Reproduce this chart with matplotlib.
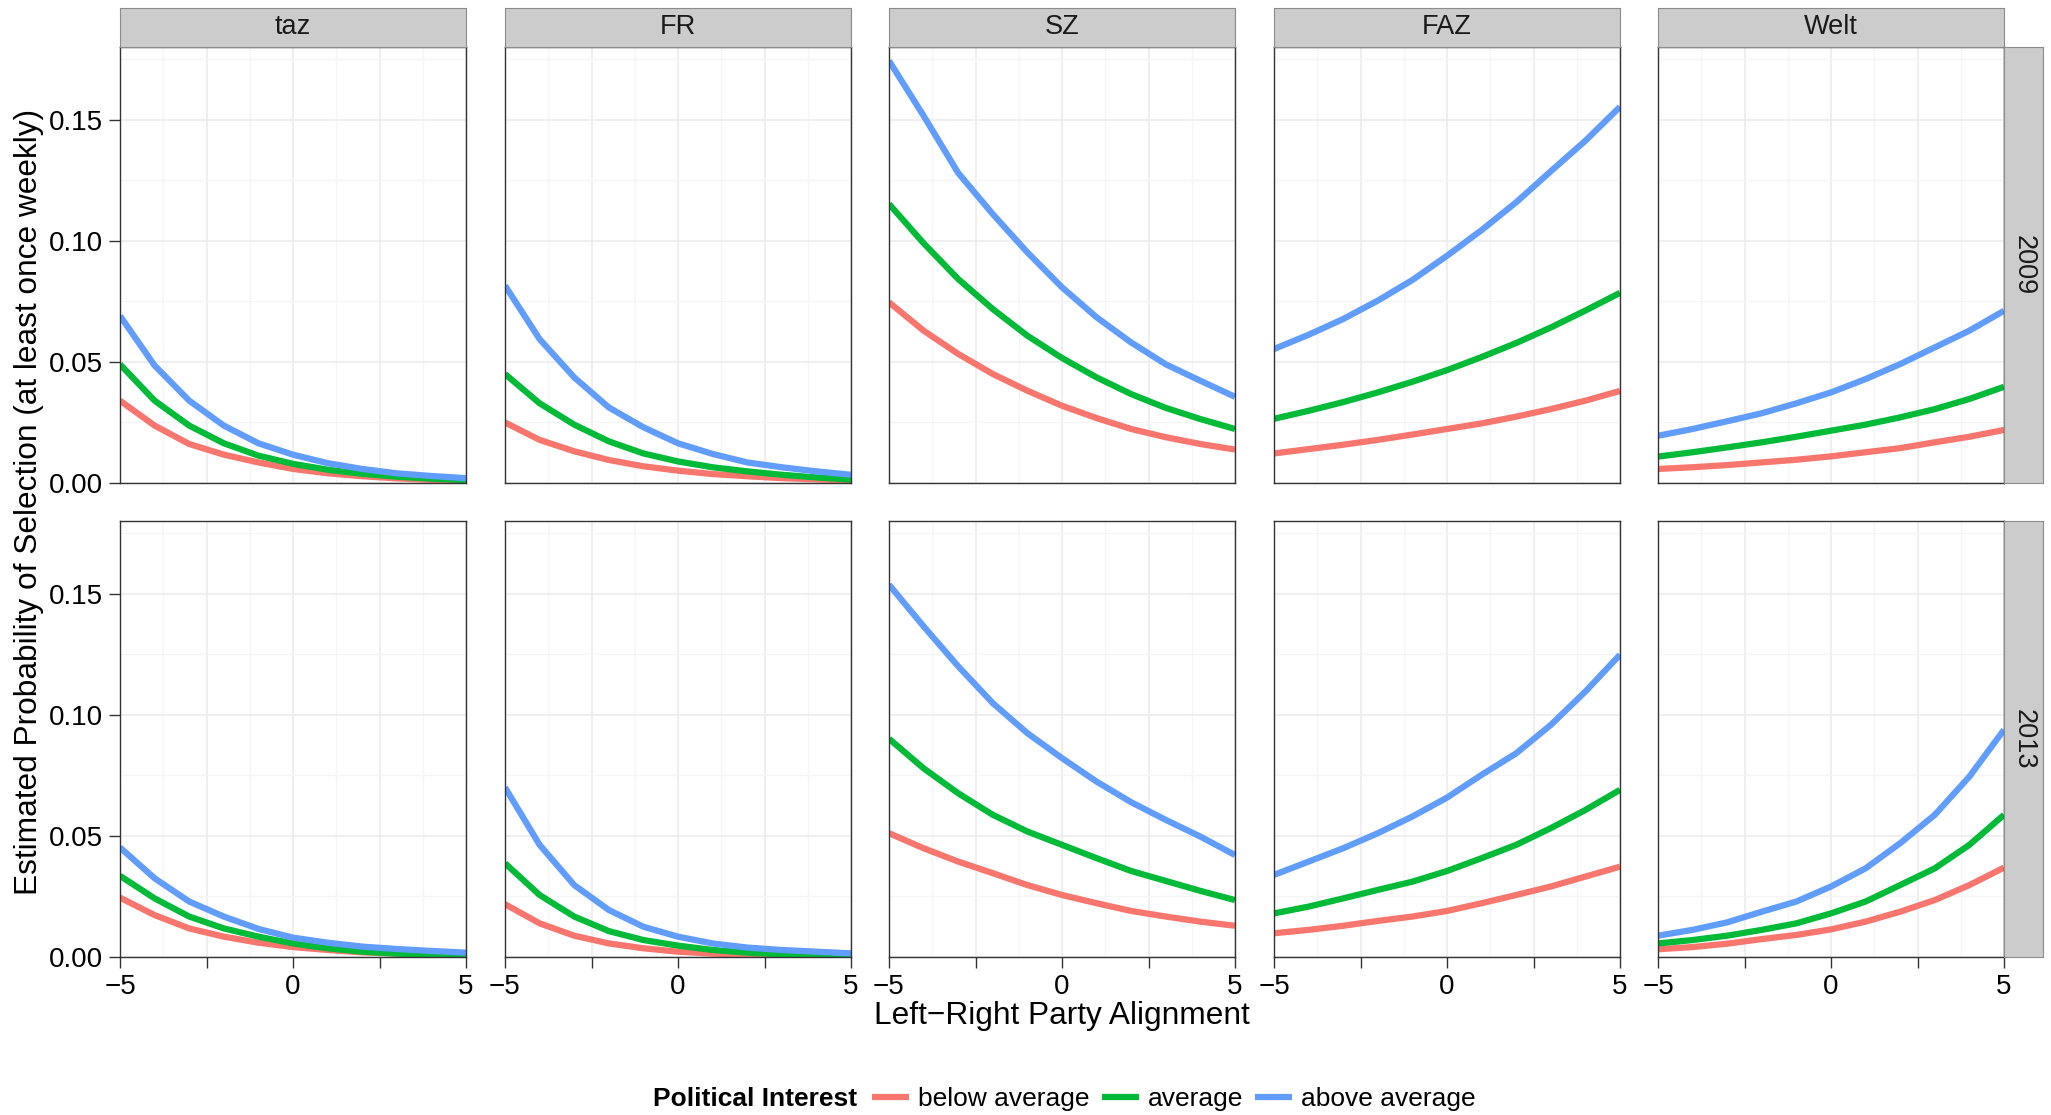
import matplotlib
matplotlib.use("Agg")
import matplotlib.pyplot as plt
from matplotlib.lines import Line2D
from matplotlib.ticker import FixedLocator, FixedFormatter

plt.rcParams['font.family'] = ['Liberation Sans', 'DejaVu Sans']

# ---------------- data ----------------
alignment = [-5, -4, -3, -2, -1, 0, 1, 2, 3, 4, 5]
papers = ["taz", "FR", "SZ", "FAZ", "Welt"]
years = ["2009", "2013"]
groups = ["below average", "average", "above average"]
group_colors = ["#F8766D", "#00BA38", "#619CFF"]

# 2009
taz09_below = [0.034, 0.0237, 0.0161, 0.0117, 0.0085, 0.0058, 0.004, 0.0028, 0.0019, 0.0013, 0.0009]
taz09_avg = [0.049, 0.034, 0.0237, 0.0164, 0.0113, 0.0079, 0.0055, 0.0038, 0.0026, 0.0018, 0.0012]
taz09_above = [0.069, 0.0485, 0.034, 0.0237, 0.0164, 0.0117, 0.0082, 0.0058, 0.004, 0.0029, 0.002]

fr09_below = [0.025, 0.0178, 0.0131, 0.0095, 0.0069, 0.0051, 0.0037, 0.0028, 0.002, 0.0015, 0.001]
fr09_avg = [0.045, 0.0329, 0.0241, 0.0172, 0.0122, 0.0089, 0.0065, 0.0048, 0.0034, 0.0023, 0.0014]
fr09_above = [0.0815, 0.0594, 0.0436, 0.0312, 0.023, 0.0164, 0.012, 0.0085, 0.0065, 0.0048, 0.0034]

sz09_below = [0.0746, 0.0629, 0.0533, 0.045, 0.0381, 0.0319, 0.0268, 0.0223, 0.0189, 0.0161, 0.0138]
sz09_avg = [0.1152, 0.099, 0.0842, 0.0718, 0.0608, 0.0516, 0.0436, 0.0367, 0.031, 0.0264, 0.0223]
sz09_above = [0.1743, 0.1516, 0.128, 0.111, 0.0952, 0.0808, 0.0684, 0.058, 0.049, 0.0422, 0.0356]

faz09_below = [0.0122, 0.014, 0.0158, 0.0178, 0.02, 0.0223, 0.0246, 0.0274, 0.0305, 0.034, 0.038]
faz09_avg = [0.0265, 0.0298, 0.0334, 0.0374, 0.0418, 0.0466, 0.052, 0.0578, 0.0642, 0.0712, 0.0785]
faz09_above = [0.0553, 0.0612, 0.0677, 0.0753, 0.0838, 0.0938, 0.1044, 0.1159, 0.1287, 0.1413, 0.1553]

welt09_below = [0.0058, 0.0065, 0.0074, 0.0085, 0.0096, 0.011, 0.0127, 0.0144, 0.0168, 0.0191, 0.0219]
welt09_avg = [0.0109, 0.0127, 0.0147, 0.0168, 0.0191, 0.0216, 0.0241, 0.0271, 0.0305, 0.0347, 0.0397]
welt09_above = [0.0195, 0.0223, 0.0255, 0.0288, 0.0329, 0.0374, 0.0429, 0.0491, 0.056, 0.0629, 0.0711]

# 2013
taz13_below = [0.0245, 0.0173, 0.0118, 0.0084, 0.0059, 0.0041, 0.0029, 0.0019, 0.0014, 0.001, 0.0007]
taz13_avg = [0.0335, 0.0242, 0.0167, 0.0118, 0.0084, 0.0056, 0.0036, 0.0022, 0.0014, 0.0008, 0.0006]
taz13_above = [0.0452, 0.0325, 0.0229, 0.0167, 0.0116, 0.008, 0.0059, 0.0043, 0.0033, 0.0025, 0.0018]

fr13_below = [0.0218, 0.0139, 0.0088, 0.0056, 0.0036, 0.0022, 0.0014, 0.0008, 0.0006, 0.0004, 0.0003]
fr13_avg = [0.0387, 0.0256, 0.0167, 0.0107, 0.007, 0.0047, 0.0029, 0.0018, 0.0011, 0.0007, 0.0004]
fr13_above = [0.070, 0.0463, 0.0297, 0.0194, 0.0125, 0.0084, 0.0056, 0.0039, 0.0029, 0.0022, 0.0015]

sz13_below = [0.0511, 0.0449, 0.0394, 0.0346, 0.0297, 0.0256, 0.0222, 0.0190, 0.0167, 0.0146, 0.0129]
sz13_avg = [0.0901, 0.0779, 0.0676, 0.0587, 0.0518, 0.0463, 0.0408, 0.0355, 0.0314, 0.0273, 0.0235]
sz13_above = [0.1537, 0.1365, 0.120, 0.1048, 0.0924, 0.0821, 0.0724, 0.0639, 0.0566, 0.0497, 0.0421]

faz13_below = [0.0098, 0.0112, 0.0129, 0.0149, 0.0167, 0.019, 0.0222, 0.0256, 0.0291, 0.0332, 0.0373]
faz13_avg = [0.018, 0.0208, 0.0242, 0.0277, 0.0311, 0.0355, 0.0408, 0.0463, 0.0532, 0.0607, 0.069]
faz13_above = [0.0339, 0.0394, 0.0449, 0.0511, 0.058, 0.0658, 0.0752, 0.0841, 0.0958, 0.1096, 0.1248]

welt13_below = [0.0032, 0.0041, 0.0055, 0.0074, 0.0091, 0.0114, 0.0146, 0.0187, 0.0235, 0.0297, 0.0369]
welt13_avg = [0.0056, 0.007, 0.0088, 0.0112, 0.0139, 0.018, 0.0229, 0.0297, 0.0366, 0.0463, 0.0587]
welt13_above = [0.0088, 0.0112, 0.0143, 0.0187, 0.0229, 0.0291, 0.0366, 0.047, 0.0587, 0.0745, 0.0938]

y_ticks = [0.00, 0.05, 0.10, 0.15]
y_tick_labels = ["0.00", "0.05", "0.10", "0.15"]
x_ticks = [-5, -2.5, 0, 2.5, 5]
x_tick_labels = ["\u22125", "", "0", "", "5"]

panels = {
    ("2009", "taz"): [taz09_below, taz09_avg, taz09_above],
    ("2009", "FR"): [fr09_below, fr09_avg, fr09_above],
    ("2009", "SZ"): [sz09_below, sz09_avg, sz09_above],
    ("2009", "FAZ"): [faz09_below, faz09_avg, faz09_above],
    ("2009", "Welt"): [welt09_below, welt09_avg, welt09_above],
    ("2013", "taz"): [taz13_below, taz13_avg, taz13_above],
    ("2013", "FR"): [fr13_below, fr13_avg, fr13_above],
    ("2013", "SZ"): [sz13_below, sz13_avg, sz13_above],
    ("2013", "FAZ"): [faz13_below, faz13_avg, faz13_above],
    ("2013", "Welt"): [welt13_below, welt13_avg, welt13_above],
}

# ---------------- layout ----------------
W, H = 2051, 1115
fig = plt.figure(figsize=(W / 100, H / 100), dpi=100)

col_left = [120, 505, 889, 1274, 1658]
panel_w = 346
row_top = [47, 521]
panel_h = 436

def fx(px):
    return px / W

def fy(py):
    return 1 - py / H

strip_color = "#CCCCCC"
strip_edge = "#8C8C8C"
border_color = "#333333"
fs_tick = 20
fs_strip = 19.5
fs_legend = 19
fs_title = 22.8

for r, yr in enumerate(years):
    for c, paper in enumerate(papers):
        ax = fig.add_axes([fx(col_left[c]), fy(row_top[r] + panel_h), panel_w / W, panel_h / H])
        ax.set_xlim(-5, 5)
        ax.set_ylim(0, 0.18)
        ax.xaxis.set_major_locator(FixedLocator(x_ticks))
        ax.xaxis.set_minor_locator(FixedLocator([-3.75, -1.25, 1.25, 3.75]))
        ax.yaxis.set_major_locator(FixedLocator(y_ticks))
        ax.yaxis.set_minor_locator(FixedLocator([0.025, 0.075, 0.125, 0.175]))
        ax.grid(which="major", color="#EBEBEB", lw=1.1)
        ax.grid(which="minor", color="#F5F5F5", lw=0.9)
        ax.set_axisbelow(True)
        for s in ax.spines.values():
            s.set_color(border_color)
            s.set_linewidth(1.0)
        ax.tick_params(which="minor", length=0)
        ax.tick_params(which="major", length=8, width=1.0, color=border_color,
                       labelsize=fs_tick, labelcolor="black", pad=4)
        if c == 0:
            ax.yaxis.set_major_formatter(FixedFormatter(y_tick_labels))
        else:
            ax.tick_params(axis="y", which="major", length=0, labelleft=False)
        if r == 1:
            ax.xaxis.set_major_formatter(FixedFormatter(x_tick_labels))
        else:
            ax.tick_params(axis="x", which="major", length=0, labelbottom=False)

        for vals, col in zip(panels[(yr, paper)], group_colors):
            ax.plot(alignment, vals, color=col, lw=4.5, solid_capstyle="butt",
                    solid_joinstyle="round", clip_on=True)

        # column strip
        if r == 0:
            sax = fig.add_axes([fx(col_left[c]), fy(row_top[0]), panel_w / W, 39 / H])
            sax.set_xticks([]); sax.set_yticks([])
            sax.set_facecolor(strip_color)
            for s in sax.spines.values():
                s.set_color(strip_edge); s.set_linewidth(0.8)
            sax.text(0.5, 0.5, paper, ha="center", va="center", fontsize=fs_strip,
                     color="#1A1A1A", transform=sax.transAxes)
        # row strip
        if c == len(papers) - 1:
            rax = fig.add_axes([fx(col_left[c] + panel_w), fy(row_top[r] + panel_h), 39 / W, panel_h / H])
            rax.set_xticks([]); rax.set_yticks([])
            rax.set_facecolor(strip_color)
            for s in rax.spines.values():
                s.set_color(strip_edge); s.set_linewidth(0.8)
            rax.text(0.5, 0.5, yr, ha="center", va="center", fontsize=fs_strip,
                     rotation=-90, color="#1A1A1A", transform=rax.transAxes)

# axis titles
fig.text(fx(29), fy((row_top[0] + row_top[1] + panel_h) / 2),
         "Estimated Probability of Selection (at least once weekly)",
         rotation=90, ha="center", va="center", fontsize=fs_title)
fig.text(fx((col_left[0] + col_left[-1] + panel_w) / 2), fy(1016),
         "Left\u2212Right Party Alignment", ha="center", va="center", fontsize=fs_title)

# legend
fig.text(fx(857), fy(1099), "Political Interest", ha="right", va="center",
         fontsize=fs_legend, fontweight="bold")
handles = [Line2D([0], [0], color=col, lw=4.5, solid_capstyle="butt") for col in group_colors]
fig.legend(handles, groups, loc="center left", bbox_to_anchor=(fx(872), fy(1099)),
           ncol=3, frameon=False, fontsize=fs_legend, handlelength=1.4,
           handletextpad=0.35, columnspacing=0.45, borderpad=0, borderaxespad=0)

fig.savefig("out.png", dpi=100, facecolor="white")
